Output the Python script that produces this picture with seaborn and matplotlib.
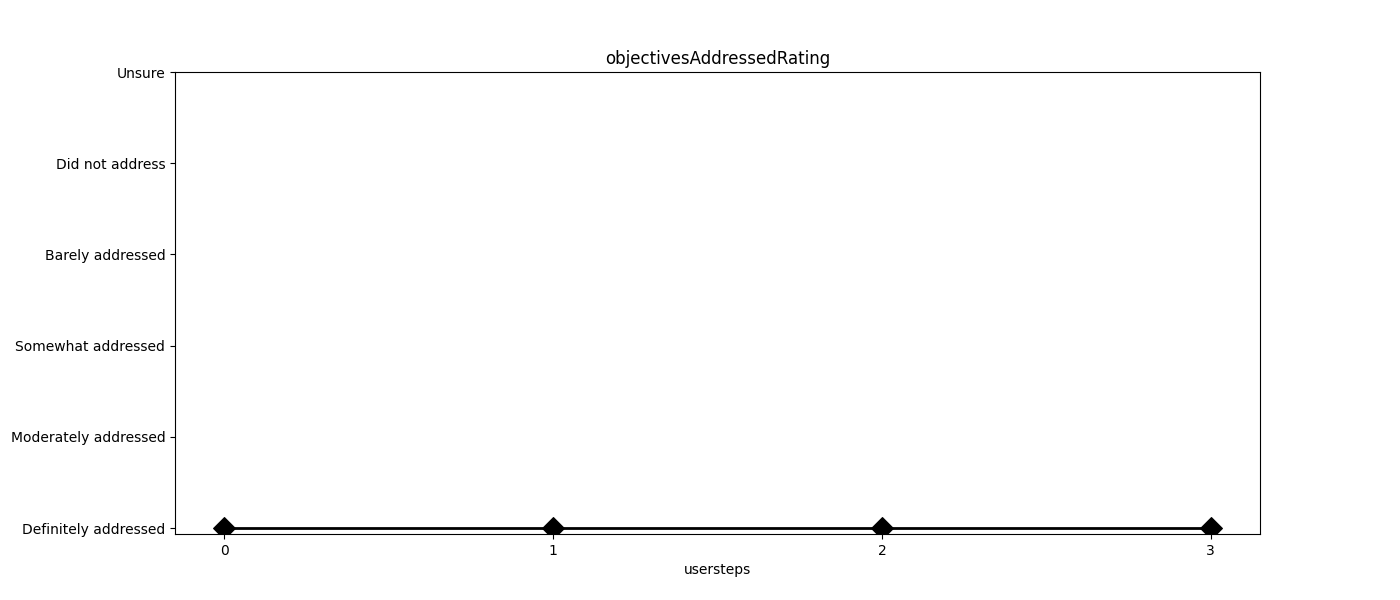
import matplotlib
matplotlib.use('Agg')
import matplotlib.pyplot as plt
import seaborn as sns
import pandas as pd

# rating scale (bottom to top) and the answers per step
rating_labels = ['Definitely addressed', 'Moderately addressed', 'Somewhat addressed',
                 'Barely addressed', 'Did not address', 'Unsure']
usersteps = [0, 1, 2, 3]
ratings = ['Definitely addressed', 'Definitely addressed', 'Definitely addressed', 'Definitely addressed']

df = pd.DataFrame({'usersteps': usersteps,
                   'rating': [rating_labels.index(r) for r in ratings]})

fig, ax = plt.subplots(figsize=(14, 6))
sns.lineplot(data=df, x='usersteps', y='rating', color='black', linewidth=2,
             marker='D', markersize=11, markeredgecolor='black', ax=ax)
ax.set_title('objectivesAddressedRating')
ax.set_xlabel('usersteps')
ax.set_ylabel('')
ax.set_xticks(usersteps)
ax.set_yticks(range(len(rating_labels)))
ax.set_yticklabels(rating_labels)
ax.set_ylim(-0.065, len(rating_labels) - 1)
plt.savefig('out.png')
